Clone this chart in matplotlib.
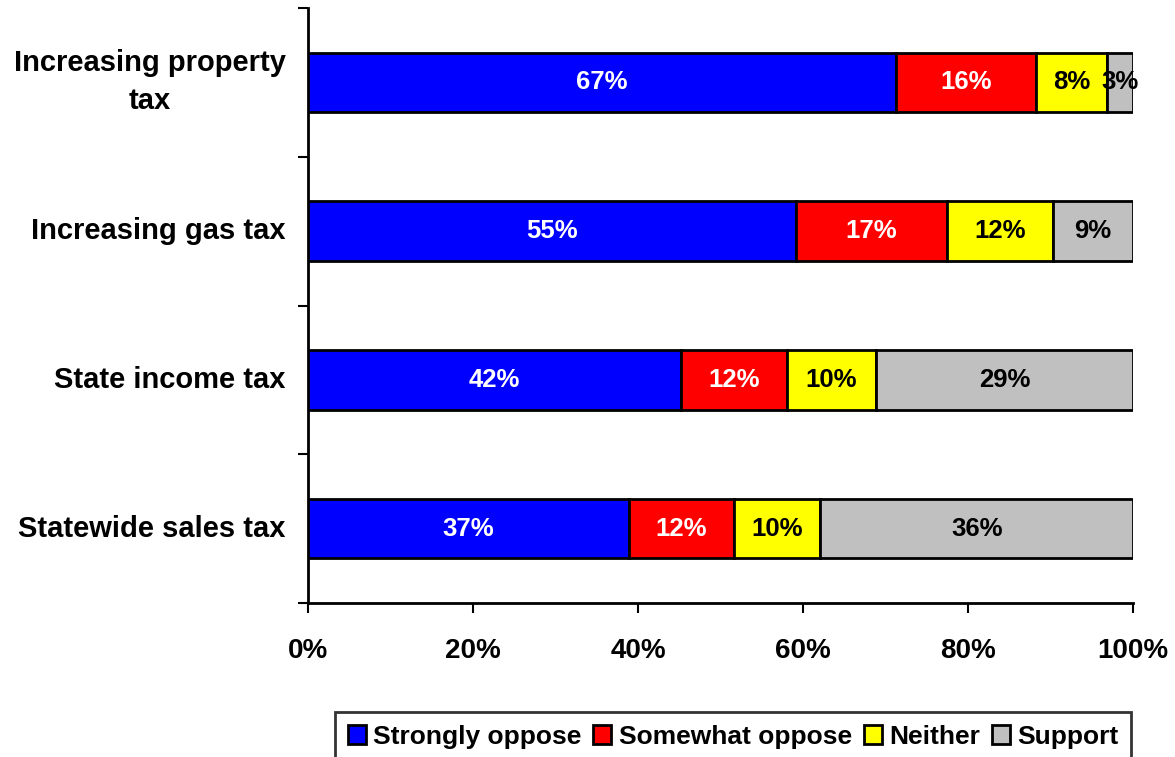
import matplotlib
matplotlib.use("Agg")
import matplotlib.pyplot as plt
import numpy as np
from matplotlib.font_manager import FontProperties

categories = ["Increasing property\ntax", "Increasing gas tax", "State income tax", "Statewide sales tax"]
series_names = ["Strongly oppose", "Somewhat oppose", "Neither", "Support"]
strongly_oppose = [67, 55, 42, 37]
somewhat_oppose = [16, 17, 12, 12]
neither = [8, 12, 10, 10]
support = [3, 9, 29, 36]
x_ticks = [0, 20, 40, 60, 80, 100]

colors = ["#0000FF", "#FF0000", "#FFFF00", "#C0C0C0"]
label_colors = ["white", "white", "black", "black"]

plt.rcParams['font.family'] = ['Liberation Sans', 'DejaVu Sans']

fig = plt.figure(figsize=(11.75, 7.57), dpi=100)
ax = fig.add_axes([308 / 1175, 1 - 603 / 757, 825 / 1175, 595 / 757])

# each bar is scaled to 100% of its own responses
series = np.array([strongly_oppose, somewhat_oppose, neither, support], dtype=float)
totals = series.sum(axis=0)
shares = series / totals * 100
ypos = np.arange(len(categories))

left = np.zeros(len(categories))
for i, name in enumerate(series_names):
    ax.barh(ypos, shares[i], left=left, height=0.4, color=colors[i],
            edgecolor="black", linewidth=2, label=name, zorder=3)
    for j in range(len(categories)):
        ax.text(left[j] + shares[i][j] / 2, ypos[j], f"{int(series[i][j])}%",
                ha="center", va="center", fontsize=18.5, fontweight="bold",
                color=label_colors[i], zorder=4)
    left += shares[i]

ax.set_xlim(0, 100)
ax.set_ylim(len(categories) - 0.5, -0.5)
ax.set_xticks(x_ticks)
ax.set_xticklabels([f"{t}%" for t in x_ticks], fontsize=20, fontweight="bold")
ax.tick_params(axis="x", direction="out", length=7, width=1.5, pad=18)

# ticks at category boundaries, category names centred on the bars
ax.set_yticks(np.arange(len(categories) + 1) - 0.5)
ax.set_yticklabels([])
ax.tick_params(axis="y", direction="out", length=7, width=1.5)
for j, cat in enumerate(categories):
    ax.annotate(cat, xy=(0, ypos[j]), xycoords=("axes fraction", "data"),
                xytext=(-16, 0), textcoords="offset points",
                ha="right", va="center", multialignment="center",
                fontsize=21, fontweight="bold", linespacing=1.45)

for side in ["top", "right"]:
    ax.spines[side].set_visible(False)
for side in ["left", "bottom"]:
    ax.spines[side].set_linewidth(2)

legend_font = FontProperties(family=["Liberation Sans", "DejaVu Sans"],
                             weight="bold", size=19)
leg = fig.legend(loc="upper left", bbox_to_anchor=(335 / 1175, 1 - 712 / 757),
                 ncol=4, prop=legend_font, frameon=True, fancybox=False,
                 edgecolor="black", handlelength=0.68, handleheight=0.7,
                 handletextpad=0.28, columnspacing=0.45, borderpad=0.48,
                 borderaxespad=0)
leg.get_frame().set_linewidth(2)
for h in leg.legend_handles:
    h.set_linewidth(2)

fig.savefig("out.png", dpi=100, facecolor="white")
